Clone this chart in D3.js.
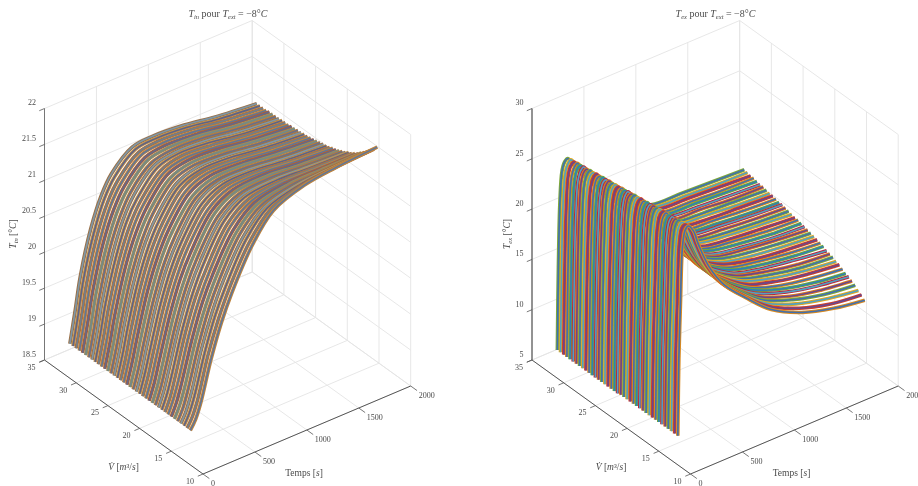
<!DOCTYPE html>
<html>
<head>
<meta charset="utf-8">
<script src="https://cdn.jsdelivr.net/npm/d3@7"></script>
<style>
body { margin: 0; background: #fff; }
text { font-family: "Liberation Serif", serif; fill: #4a4a4a; }
</style>
</head>
<body>
<div id="chart"></div>
<script>
// debit values, one curve per value
var flowValues = [12,12.5,13,13.5,14,14.5,15,15.5,16,16.5,17,17.5,18,18.5,19,19.5,20,20.5,21,21.5,22,22.5,23,23.5,24,24.5,25,25.5,26,26.5,27,27.5,28,28.5,29,29.5,30,30.5,31];

var inTimes = [0,50,100,200,300,400,600,800,1100,1400,1800];
var exTimes = [0,10,25,45,70,100,150,200,300,450,650,900,1200,1500,1800];

var timeTicks = [0,500,1000,1500,2000];
var flowTicks = [10,15,20,25,30,35];
var inTicks = [18.5,19,19.5,20,20.5,21,21.5,22];
var exTicks = [5,10,15,20,25,30];

// one row per flow value
var inRows = [
[18.98,19.10,19.30,19.85,20.30,20.65,21.20,21.55,21.72,21.78,21.82],
[18.98,19.11,19.31,19.87,20.31,20.66,21.20,21.53,21.68,21.73,21.76],
[18.98,19.12,19.33,19.88,20.33,20.67,21.21,21.52,21.65,21.69,21.71],
[18.98,19.12,19.34,19.90,20.34,20.69,21.21,21.50,21.62,21.65,21.66],
[18.98,19.13,19.36,19.91,20.36,20.70,21.22,21.49,21.60,21.61,21.62],
[18.98,19.14,19.37,19.93,20.37,20.71,21.22,21.48,21.57,21.58,21.58],
[18.98,19.15,19.39,19.94,20.39,20.72,21.22,21.47,21.55,21.55,21.54],
[18.98,19.16,19.40,19.96,20.40,20.73,21.23,21.46,21.53,21.52,21.51],
[18.98,19.16,19.42,19.98,20.42,20.74,21.23,21.45,21.51,21.50,21.48],
[18.98,19.17,19.43,19.99,20.43,20.76,21.24,21.45,21.50,21.48,21.46],
[18.98,19.18,19.45,20.01,20.45,20.77,21.24,21.44,21.48,21.46,21.43],
[18.98,19.19,19.46,20.02,20.46,20.78,21.24,21.43,21.47,21.44,21.41],
[18.98,19.19,19.47,20.04,20.47,20.79,21.25,21.43,21.46,21.42,21.39],
[18.98,19.20,19.49,20.05,20.49,20.80,21.25,21.42,21.45,21.41,21.37],
[18.98,19.21,19.50,20.07,20.50,20.82,21.25,21.42,21.44,21.40,21.36],
[18.98,19.22,19.52,20.09,20.52,20.83,21.26,21.42,21.43,21.38,21.34],
[18.98,19.23,19.53,20.10,20.53,20.84,21.26,21.41,21.42,21.37,21.33],
[18.98,19.23,19.55,20.12,20.55,20.85,21.27,21.41,21.41,21.36,21.32],
[18.98,19.24,19.56,20.13,20.56,20.86,21.27,21.40,21.40,21.35,21.31],
[18.98,19.25,19.58,20.15,20.58,20.88,21.27,21.40,21.40,21.35,21.30],
[18.98,19.26,19.59,20.17,20.59,20.89,21.28,21.40,21.39,21.34,21.29],
[18.98,19.27,19.60,20.18,20.60,20.90,21.28,21.40,21.39,21.33,21.28],
[18.98,19.27,19.62,20.20,20.62,20.91,21.29,21.40,21.38,21.33,21.27],
[18.98,19.28,19.63,20.21,20.63,20.92,21.29,21.39,21.38,21.32,21.27],
[18.98,19.29,19.65,20.23,20.65,20.93,21.29,21.39,21.38,21.32,21.26],
[18.98,19.30,19.66,20.25,20.66,20.95,21.30,21.39,21.37,21.31,21.26],
[18.98,19.31,19.68,20.26,20.68,20.96,21.30,21.39,21.37,21.31,21.25],
[18.98,19.31,19.69,20.28,20.69,20.97,21.31,21.39,21.37,21.30,21.25],
[18.98,19.32,19.71,20.29,20.71,20.98,21.31,21.39,21.36,21.30,21.24],
[18.98,19.33,19.72,20.31,20.72,20.99,21.31,21.39,21.36,21.30,21.24],
[18.98,19.34,19.74,20.32,20.74,21.00,21.32,21.39,21.36,21.29,21.24],
[18.98,19.34,19.75,20.34,20.75,21.02,21.32,21.38,21.36,21.29,21.23],
[18.98,19.35,19.76,20.36,20.76,21.03,21.32,21.38,21.36,21.29,21.23],
[18.98,19.36,19.78,20.37,20.78,21.04,21.33,21.38,21.36,21.29,21.23],
[18.98,19.37,19.79,20.39,20.79,21.05,21.33,21.38,21.35,21.29,21.23],
[18.98,19.38,19.81,20.40,20.81,21.06,21.34,21.38,21.35,21.28,21.22],
[18.98,19.38,19.82,20.42,20.82,21.07,21.34,21.38,21.35,21.28,21.22],
[18.98,19.39,19.84,20.43,20.84,21.09,21.35,21.38,21.35,21.28,21.22],
[18.98,19.40,19.85,20.45,20.85,21.10,21.35,21.38,21.35,21.28,21.22]
];

// same for the right surface
var exRows = [
[7.9,15.5,20.8,26.5,28.0,28.3,27.6,26.0,23.4,20.9,18.8,16.5,14.9,14.0,13.5],
[7.9,15.5,20.8,26.5,28.0,28.2,27.5,26.0,23.4,20.9,18.8,16.6,15.1,14.2,13.8],
[7.9,15.5,20.9,26.4,27.9,28.2,27.5,25.9,23.4,20.9,18.8,16.7,15.3,14.5,14.0],
[7.9,15.5,20.9,26.4,27.9,28.2,27.4,25.9,23.4,21.0,18.9,16.8,15.5,14.7,14.3],
[7.9,15.6,21.0,26.4,27.8,28.1,27.4,25.9,23.4,21.0,18.9,16.9,15.6,14.9,14.5],
[7.9,15.6,21.0,26.4,27.8,28.1,27.3,25.8,23.4,21.0,18.9,17.0,15.8,15.1,14.7],
[7.9,15.6,21.1,26.3,27.7,28.0,27.3,25.8,23.4,21.0,18.9,17.1,15.9,15.2,14.8],
[7.9,15.6,21.1,26.3,27.7,28.0,27.2,25.8,23.4,21.0,19.0,17.1,16.0,15.4,15.0],
[7.9,15.6,21.2,26.3,27.6,27.9,27.2,25.7,23.4,21.0,19.0,17.2,16.2,15.6,15.2],
[7.9,15.6,21.2,26.2,27.6,27.9,27.1,25.7,23.4,21.0,19.0,17.3,16.3,15.7,15.3],
[7.9,15.6,21.3,26.2,27.5,27.8,27.1,25.7,23.4,21.1,19.0,17.3,16.4,15.8,15.5],
[7.9,15.6,21.3,26.2,27.5,27.8,27.0,25.6,23.4,21.1,19.0,17.4,16.5,15.9,15.6],
[7.9,15.7,21.3,26.2,27.4,27.7,27.0,25.6,23.4,21.1,19.1,17.4,16.6,16.1,15.7],
[7.9,15.7,21.4,26.1,27.4,27.7,26.9,25.6,23.4,21.1,19.1,17.5,16.7,16.2,15.9],
[7.9,15.7,21.4,26.1,27.3,27.6,26.9,25.6,23.4,21.1,19.1,17.5,16.8,16.3,16.0],
[7.9,15.7,21.5,26.1,27.3,27.6,26.8,25.5,23.4,21.1,19.1,17.6,16.8,16.4,16.1],
[7.9,15.7,21.5,26.0,27.2,27.5,26.8,25.5,23.4,21.2,19.1,17.6,16.9,16.5,16.2],
[7.9,15.7,21.6,26.0,27.2,27.5,26.7,25.5,23.4,21.2,19.2,17.7,17.0,16.6,16.3],
[7.9,15.7,21.6,26.0,27.2,27.4,26.7,25.4,23.4,21.2,19.2,17.7,17.1,16.7,16.4],
[7.8,15.7,21.7,25.9,27.1,27.4,26.6,25.4,23.4,21.2,19.2,17.7,17.1,16.7,16.5],
[7.8,15.8,21.7,25.9,27.1,27.3,26.5,25.4,23.4,21.2,19.2,17.8,17.2,16.8,16.6],
[7.8,15.8,21.7,25.9,27.0,27.3,26.5,25.3,23.4,21.2,19.2,17.8,17.3,16.9,16.7],
[7.8,15.8,21.8,25.9,27.0,27.2,26.4,25.3,23.4,21.3,19.3,17.8,17.3,17.0,16.7],
[7.8,15.8,21.8,25.8,26.9,27.2,26.4,25.3,23.4,21.3,19.3,17.9,17.4,17.1,16.8],
[7.8,15.8,21.9,25.8,26.9,27.1,26.3,25.2,23.4,21.3,19.3,17.9,17.4,17.1,16.9],
[7.8,15.8,21.9,25.8,26.8,27.1,26.3,25.2,23.4,21.3,19.3,17.9,17.5,17.2,17.0],
[7.8,15.8,22.0,25.7,26.8,27.0,26.2,25.2,23.4,21.3,19.3,18.0,17.6,17.3,17.1],
[7.8,15.9,22.0,25.7,26.7,27.0,26.2,25.1,23.4,21.3,19.4,18.0,17.6,17.3,17.1],
[7.8,15.9,22.1,25.7,26.7,26.9,26.1,25.1,23.4,21.4,19.4,18.0,17.7,17.4,17.2],
[7.8,15.9,22.1,25.7,26.6,26.9,26.1,25.1,23.4,21.4,19.4,18.1,17.7,17.5,17.3],
[7.8,15.9,22.1,25.6,26.6,26.8,26.0,25.0,23.4,21.4,19.4,18.1,17.8,17.5,17.3],
[7.8,15.9,22.2,25.6,26.5,26.8,26.0,25.0,23.4,21.4,19.5,18.1,17.8,17.6,17.4],
[7.8,15.9,22.2,25.6,26.5,26.7,25.9,25.0,23.4,21.4,19.5,18.1,17.9,17.6,17.5],
[7.8,15.9,22.3,25.5,26.4,26.7,25.9,24.9,23.4,21.4,19.5,18.2,17.9,17.7,17.5],
[7.8,16.0,22.3,25.5,26.4,26.6,25.8,24.9,23.4,21.4,19.5,18.2,18.0,17.8,17.6],
[7.8,16.0,22.4,25.5,26.3,26.6,25.8,24.9,23.4,21.5,19.5,18.2,18.0,17.8,17.7],
[7.8,16.0,22.4,25.5,26.3,26.5,25.7,24.9,23.4,21.5,19.6,18.3,18.1,17.9,17.7],
[7.8,16.0,22.5,25.4,26.2,26.5,25.7,24.8,23.4,21.5,19.6,18.3,18.1,17.9,17.8],
[7.8,16.0,22.5,25.4,26.2,26.4,25.6,24.8,23.4,21.5,19.6,18.3,18.15,18.0,17.85]
];

// each curve is a wide stroke with a thin core, so the stripes come out as fine as the original
var inColors = ["#bd8440","#b0703c","#c0904a","#9a7048","#b87a3c","#a08a58","#a8603c"];
var inCores = ["#5f7698","#6d7f8e","#5c6388","#7d97a8","#66708c","#6f8a8a","#63688a"];
var exColors = ["#d98a20","#cf3f2a","#e0a820","#7fa83a","#d97a20","#b8283c","#6fa83c"];
var exCores = ["#3f6fb0","#69468c","#4fa0c4","#3f6fb0","#69468c","#4fa0c4","#2f7fb8"];

var svg = d3.select("#chart").append("svg")
    .attr("width", 918)
    .attr("height", 486);

svg.append("filter").attr("id", "soft")
  .append("feGaussianBlur").attr("stdDeviation", 0.5);

var root = svg.append("g").attr("filter", "url(#soft)");

function draw_panel(opt) {
  var g = root.append("g").attr("transform", "translate(" + opt.dx + ",0)");

  // oblique view: each data axis is one screen vector
  var tx = d3.scaleLinear().domain([0, 2000]).range([0, 207.7]);
  var ty = d3.scaleLinear().domain([0, 2000]).range([0, -88]);
  var vx = d3.scaleLinear().domain([10, 35]).range([0, -158.5]);
  var vy = d3.scaleLinear().domain([10, 35]).range([0, -114]);
  var zy = d3.scaleLinear().domain(d3.extent(opt.zTicks)).range([0, -251.5]);
  var zMin = d3.min(opt.zTicks), zMax = d3.max(opt.zTicks);

  function px(t, v) { return 203 + tx(t) + vx(v); }
  function py(t, v, z) { return 474 + ty(t) + vy(v) + zy(z); }

  function seg(a, b, color, width) {
    g.append("line")
      .attr("x1", px(a[0], a[1])).attr("y1", py(a[0], a[1], a[2]))
      .attr("x2", px(b[0], b[1])).attr("y2", py(b[0], b[1], b[2]))
      .attr("stroke", color).attr("stroke-width", width);
  }

  var gridColor = "#e4e4e4";
  timeTicks.forEach(function(t) {
    seg([t, 10, zMin], [t, 35, zMin], gridColor, 0.9);
    seg([t, 35, zMin], [t, 35, zMax], gridColor, 0.9);
  });
  flowTicks.forEach(function(v) {
    seg([0, v, zMin], [2000, v, zMin], gridColor, 0.9);
    seg([2000, v, zMin], [2000, v, zMax], gridColor, 0.9);
  });
  opt.zTicks.forEach(function(z) {
    seg([0, 35, z], [2000, 35, z], gridColor, 0.9);
    seg([2000, 35, z], [2000, 10, z], gridColor, 0.9);
  });

  // axes
  seg([0, 35, zMin], [0, 35, zMax], opt.axisColor, 1);
  seg([0, 35, zMin], [0, 10, zMin], "#555", 1);
  seg([0, 10, zMin], [2000, 10, zMin], "#555", 1);

  opt.zTicks.forEach(function(z) {
    seg([0, 35, z], [-50, 35, z], "#555", 0.8);
    g.append("text").attr("x", px(0, 35) - 8.5).attr("y", py(0, 35, z) - 5)
      .attr("text-anchor", "end").attr("dominant-baseline", "middle")
      .style("font-size", "8px").text(z);
  });
  flowTicks.forEach(function(v) {
    seg([0, v, zMin], [-50, v, zMin], "#555", 0.8);
    g.append("text").attr("x", px(0, v) - 9).attr("y", py(0, v, zMin) + 8)
      .attr("text-anchor", "end").attr("dominant-baseline", "middle")
      .style("font-size", "8px").text(v);
  });
  timeTicks.forEach(function(t) {
    seg([t, 10, zMin], [t, 9, zMin], "#555", 0.8);
    g.append("text").attr("x", px(t, 10) + 8).attr("y", py(t, 10, zMin) + 10)
      .attr("dominant-baseline", "middle")
      .style("font-size", "8px").text(t);
  });

  // surface, far curves first so the nearer ones cover them
  var line = d3.line()
    .x(function(d) { return px(d.t, d.v); })
    .y(function(d) { return py(d.t, d.v, d.z); })
    .curve(d3.curveCatmullRom.alpha(0.5));

  var curves = flowValues.map(function(v, i) {
    return {
      id: i,
      pts: opt.times.map(function(t, j) { return {t: t, v: v, z: opt.rows[i][j]}; })
    };
  }).reverse();

  var curve = g.selectAll("g.curve").data(curves).enter().append("g").attr("class", "curve");
  curve.append("path")
    .attr("d", function(d) { return line(d.pts); })
    .attr("fill", "none")
    .attr("stroke", function(d) { return opt.colors[d.id % opt.colors.length]; })
    .attr("stroke-width", 3.6)
    .attr("stroke-linejoin", "round");
  curve.append("path")
    .attr("d", function(d) { return line(d.pts); })
    .attr("fill", "none")
    .attr("stroke", function(d) { return opt.cores[d.id % opt.cores.length]; })
    .attr("stroke-width", 1.6)
    .attr("stroke-linejoin", "round");

  // title
  var title = g.append("text").attr("x", 228).attr("y", 17)
    .attr("text-anchor", "middle").style("font-size", "10px");
  title.append("tspan").style("font-style", "italic").text("T");
  title.append("tspan").attr("dy", 2).style("font-size", "6.5px").style("font-style", "italic").text(opt.sub);
  title.append("tspan").attr("dy", -2).text(" pour ");
  title.append("tspan").style("font-style", "italic").text("T");
  title.append("tspan").attr("dy", 2).style("font-size", "6.5px").style("font-style", "italic").text("ext");
  title.append("tspan").attr("dy", -2).text(" = \u22128\u00b0");
  title.append("tspan").style("font-style", "italic").text("C");

  // axis labels
  g.append("text").attr("x", 304).attr("y", 476).attr("text-anchor", "middle")
    .style("font-size", "9.5px")
    .html('Temps [<tspan font-style="italic">s</tspan>]');
  g.append("text").attr("x", 123.5).attr("y", 470).attr("text-anchor", "middle")
    .style("font-size", "9.5px")
    .html('<tspan font-style="italic">V\u0307</tspan> [<tspan font-style="italic">m</tspan>\u00b3/<tspan font-style="italic">s</tspan>]');

  var yl = g.append("text")
    .attr("transform", "translate(" + opt.labelX + ",234) rotate(-90)")
    .attr("text-anchor", "middle").style("font-size", "9.5px");
  yl.append("tspan").style("font-style", "italic").text("T");
  yl.append("tspan").attr("dy", 2).style("font-size", "6.5px").style("font-style", "italic").text(opt.sub);
  yl.append("tspan").attr("dy", -2).text(" [\u00b0");
  yl.append("tspan").style("font-style", "italic").text("C");
  yl.append("tspan").text("]");
}

draw_panel({dx: 0, times: inTimes, rows: inRows, zTicks: inTicks, sub: "in", labelX: 16, axisColor: "#777", colors: inColors, cores: inCores});
draw_panel({dx: 487.5, times: exTimes, rows: exRows, zTicks: exTicks, sub: "ex", labelX: 22, axisColor: "#333", colors: exColors, cores: exCores});
</script>
</body>
</html>
